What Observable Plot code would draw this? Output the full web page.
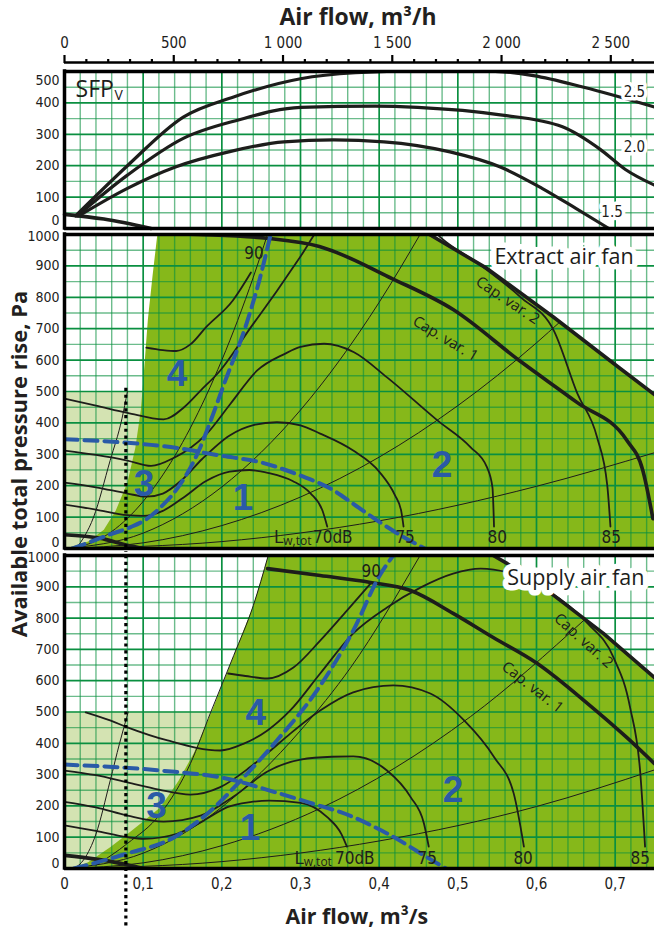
<!DOCTYPE html>
<html>
<head>
<meta charset="utf-8">
<script src="https://cdn.jsdelivr.net/npm/d3@7"></script>
<script src="https://cdn.jsdelivr.net/npm/@observablehq/plot@0.6"></script>
<style>
html,body{margin:0;padding:0;background:#fff;}
#wrap{position:relative;width:654px;height:931px;overflow:hidden;}
#wrap svg{position:absolute;left:0;}
.ttl{position:absolute;font-family:"Open Sans",sans-serif;font-weight:700;font-size:20px;color:#231f20;white-space:nowrap;line-height:1;transform-origin:50% 50%;}
</style>
</head>
<body>
<div id="wrap"></div>
<script>
// ================= DATA =================
// axes
const m3hMajor = [0, 500, 1000, 1500, 2000, 2500];
const m3hLabels = ["0", "500", "1 000", "1 500", "2 000", "2 500"];
const m3hMinor = [100,200,300,400,600,700,800,900,1100,1200,1300,1400,1600,1700,1800,1900,2100,2200,2300,2400,2600];
const m3sMajor = [0, 0.1, 0.2, 0.3, 0.4, 0.5, 0.6, 0.7];
const m3sLabels = ["0", "0,1", "0,2", "0,3", "0,4", "0,5", "0,6", "0,7"];
const sfpTicks = [0, 100, 200, 300, 400, 500];
const paTicks = [0, 100, 200, 300, 400, 500, 600, 700, 800, 900, 1000];

// SFPv panel
const sfp25 = [[0.014,40],[0.08,200],[0.151,355],[0.215,419],[0.3,477],[0.37,496],[0.45,502],[0.53,502],[0.596,487],[0.66,450],[0.75,387]];
const sfp20 = [[0.016,40],[0.08,170],[0.151,287],[0.22,345],[0.3,386],[0.395,390],[0.449,386],[0.554,362],[0.633,324],[0.681,252],[0.713,188],[0.75,138]];
const sfp15 = [[0.018,40],[0.08,128],[0.141,196],[0.21,245],[0.279,276],[0.342,282],[0.406,276],[0.49,244],[0.554,196],[0.607,128],[0.65,64],[0.692,0]];
const sfpBase = [[0,45],[0.05,30],[0.11,0]];
const sfpLabels = [{t:"2.5",x:0.7245,y:418},{t:"2.0",x:0.7245,y:244},{t:"1.5",x:0.696,y:37}];
const sfpName = [{x:0.014, y:420}];

// Extract air fan panel
const exLight = [{x1:0, x2:0.1, y1:0, y2:500}];
const exGreenLeft = [[0.002,0],[0.03,22],[0.05,60],[0.065,120],[0.08,210],[0.09,320],[0.097,440],[0.1,530],[0.106,730],[0.112,870],[0.118,1000]];
const exCap2 = [[0.464,1000],[0.537,892],[0.621,738],[0.706,574],[0.75,490]];
const exCap1 = [[0.118,1004],[0.17,1000],[0.257,988],[0.324,962],[0.417,859],[0.494,761],[0.579,597],[0.651,466],[0.715,344],[0.735,250],[0.748,95]];
const exBase = [[0,44],[0.045,33],[0.08,10],[0.1,0]];
const exSys1 = [[0.015,0],[0.037,100],[0.058,280],[0.073,413],[0.08,500]];
const exSys2 = [[0,0],[0.04,24],[0.08,96],[0.12,216],[0.16,384],[0.2,600],[0.24,864],[0.258,1000]];
const exSys3 = [[0,0],[0.1,49],[0.2,196],[0.3,441],[0.4,784],[0.452,1000]];
const exSys4 = [[0,0],[0.1,18],[0.2,73],[0.3,164],[0.4,291],[0.5,455],[0.6,655],[0.63,722]];
const exSys5 = [[0,0],[0.2,22],[0.4,88],[0.6,198],[0.75,305]];
const exDb70 = [[0,140],[0.04,124],[0.08,106],[0.1,104],[0.125,120],[0.15,160],[0.18,215],[0.21,245],[0.235,250],[0.26,240],[0.29,215],[0.313,175],[0.328,120],[0.334,70]];
const exDb75 = [[0,210],[0.04,195],[0.08,175],[0.104,165],[0.125,175],[0.15,220],[0.175,285],[0.21,360],[0.24,393],[0.27,402],[0.3,392],[0.325,366],[0.367,312],[0.4,245],[0.42,170],[0.428,120],[0.431,70]];
const exDb80 = [[0,312],[0.04,298],[0.08,280],[0.11,263],[0.14,290],[0.16,320],[0.181,366],[0.211,461],[0.245,567],[0.28,620],[0.3,642],[0.33,652],[0.368,625],[0.41,545],[0.474,408],[0.516,323],[0.537,259],[0.544,195],[0.546,70]];
const exDb85 = [[0,477],[0.04,455],[0.08,432],[0.126,411],[0.152,450],[0.173,503],[0.198,567],[0.237,705],[0.27,820],[0.3,930],[0.33,1040],[0.4,1120],[0.45,1060],[0.478,991],[0.53,900],[0.58,800],[0.622,694],[0.652,493],[0.677,354],[0.69,200],[0.694,70]];
const exDb90 = [[0.104,640],[0.125,632],[0.142,629],[0.16,650],[0.18,705],[0.214,790],[0.237,879]];
const exBlueH = [[0,348],[0.067,339],[0.135,323],[0.198,296],[0.25,274],[0.3,232],[0.34,188],[0.37,137],[0.4,85],[0.43,38],[0.458,0]];
const exBlueD = [[0.01,0],[0.037,25],[0.058,45],[0.084,68],[0.105,95],[0.122,131],[0.143,190],[0.169,302],[0.186,408],[0.203,525],[0.232,721],[0.248,857],[0.262,1000]];
const exDot = [{x:0.078, top:510, bottom:-12}];
const exDigits = [{t:"4",x:0.143,y:556},{t:"3",x:0.101,y:206},{t:"1",x:0.227,y:160},{t:"2",x:0.48,y:264}];
const exDbLabels = [{t:"70dB",x:0.341,y:17},{t:"75",x:0.433,y:18},{t:"80",x:0.55,y:18},{t:"85",x:0.695,y:18},{t:"90",x:0.241,y:922}];
const exLw = [{x:0.266, y:17}];
const exTitle = [{t:"Extract air fan", x:0.635, y:905}];
const exCapLabels = [{t:"Cap. var. 2", x:0.5635, y:790, r:34},{t:"Cap. var. 1", x:0.4843, y:668, r:31}];

// Supply air fan panel
const spLight = [{x1:0, x2:0.19, y1:0, y2:500}];
const spGreenLeft = [[0.01,0],[0.03,20],[0.058,68],[0.08,110],[0.1,150],[0.122,196],[0.145,280],[0.164,367],[0.186,495],[0.215,680],[0.24,840],[0.259,1000]];
const spCap2 = [[0.545,1000],[0.563,974],[0.614,888],[0.685,751],[0.75,610]];
const spCap1 = [[0.258,958],[0.325,936],[0.389,914],[0.44,888],[0.494,815],[0.545,738],[0.601,655],[0.665,527],[0.715,418],[0.75,335]];
const spBase = [[0,42],[0.04,30],[0.08,12],[0.1,0]];
const spSys1 = [[0.012,0],[0.025,30],[0.04,110],[0.058,280],[0.07,400],[0.081,500]];
const spSys2 = [[0.04,10],[0.08,80],[0.122,175],[0.16,335],[0.186,500],[0.215,680],[0.24,840],[0.259,1000]];
const spSys3 = [[0,0],[0.1,49],[0.2,196],[0.3,441],[0.364,643],[0.452,1000]];
const spSys4 = [[0,0],[0.1,18],[0.2,73],[0.325,192],[0.516,485],[0.662,797]];
const spSys5 = [[0,0],[0.2,22],[0.4,88],[0.6,198],[0.75,315]];
const spDb70 = [[0,138],[0.04,120],[0.08,100],[0.101,95],[0.143,111],[0.177,153],[0.207,196],[0.236,212],[0.26,217],[0.3,210],[0.334,164],[0.352,110],[0.359,70]];
const spDb75 = [[0,213],[0.04,195],[0.08,169],[0.126,150],[0.173,169],[0.215,230],[0.258,310],[0.3,348],[0.34,357],[0.367,358],[0.41,313],[0.44,228],[0.457,143],[0.463,70]];
const spDb80 = [[0,313],[0.04,298],[0.08,275],[0.12,252],[0.16,236],[0.198,260],[0.236,324],[0.262,377],[0.287,431],[0.325,505],[0.367,563],[0.418,585],[0.465,559],[0.508,473],[0.546,356],[0.571,240],[0.584,70]];
const spDb85 = [[0.027,499],[0.058,473],[0.08,451],[0.131,409],[0.198,377],[0.228,399],[0.258,441],[0.287,505],[0.325,623],[0.367,751],[0.41,834],[0.453,898],[0.494,942],[0.529,958],[0.563,946],[0.614,888],[0.665,783],[0.698,674],[0.719,514],[0.732,303],[0.738,70]];
const spDb90 = [[0.208,623],[0.23,615],[0.258,607],[0.291,642],[0.325,728],[0.359,824],[0.389,910]];
const spBlueH = [[0,332],[0.122,313],[0.207,287],[0.266,245],[0.325,200],[0.351,180],[0.41,112],[0.474,16],[0.485,0]];
const spBlueD = [[0.012,0],[0.08,48],[0.139,99],[0.182,176],[0.224,281],[0.27,409],[0.321,569],[0.367,760],[0.402,942],[0.418,1000]];
const spDot = [{x:0.078, top:1000, bottom:-185}];
const spDigits = [{t:"4",x:0.243,y:495},{t:"3",x:0.117,y:199},{t:"1",x:0.236,y:128},{t:"2",x:0.494,y:249}];
const spDbLabels = [{t:"70dB",x:0.369,y:13},{t:"75",x:0.461,y:13},{t:"80",x:0.583,y:13},{t:"85",x:0.732,y:13},{t:"90",x:0.39,y:931}];
const spLw = [{x:0.292, y:13}];
const spTitle = [{t:"Supply air fan", x:0.65, y:907}];
const spCapLabels = [{t:"Cap. var. 2", x:0.66, y:728, r:42},{t:"Cap. var. 1", x:0.595, y:579, r:38}];

// ================= STYLE =================
const GREEN = "#86b81a", LIGHT = "#d4e3b2", GRID = "#0a8f40", BLUE = "#2a5aa7", INK = "#1d1d1b";
const NARROW = '"Liberation Sans Narrow","DejaVu Sans Condensed","Arial Narrow",sans-serif';
const SANS = '"Open Sans","Noto Sans",sans-serif';
const BOLD = '"Liberation Sans",Arial,sans-serif';
const XDOM = [0, 0.75];

const px = d => d[0], py = d => d[1];
const L = (pts, o = {}) => Plot.line(pts, {x: px, y: py, curve: "monotone-x", stroke: INK, ...o});

function gridMarks(yMax) {
  const xs = d3.range(0, 38).map(i => i * 0.02);
  const ys = d3.range(0, yMax / 50 + 1).map(i => i * 50);
  return [
    Plot.ruleX(xs.filter((d, i) => i % 5 !== 0), {stroke: GRID, strokeOpacity: 0.6, strokeWidth: 1.4}),
    Plot.ruleY(ys.filter((d, i) => i % 2 !== 0), {stroke: GRID, strokeOpacity: 0.6, strokeWidth: 1.4}),
    Plot.ruleX(xs.filter((d, i) => i % 5 === 0), {stroke: GRID, strokeWidth: 1.7}),
    Plot.ruleY(ys.filter((d, i) => i % 2 === 0), {stroke: GRID, strokeWidth: 1.7})
  ];
}
function yLabels(ticks, dyTop, dyBottom) {
  const top = ticks[ticks.length - 1];
  const c = {x: () => 0, y: d => d, text: d => String(d), textAnchor: "end", dx: -5, fontSize: 14, fontFamily: NARROW, fill: INK};
  return [
    Plot.text(ticks.filter(d => d !== 0 && d !== top), c),
    Plot.text([top], {...c, dy: dyTop}),
    Plot.text([0], {...c, dy: dyBottom})
  ];
}
function frameMarks(yTop) {
  return [
    Plot.ruleY([0, yTop], {stroke: "#000", strokeWidth: 3.5}),
    Plot.ruleX([0], {stroke: "#000", strokeWidth: 3.5, strokeLinecap: "square"})
  ];
}

function fanPanel(o) {
  return Plot.plot({
    width: 654, height: o.height, marginLeft: 64, marginRight: 0, marginTop: o.mt, marginBottom: o.mb,
    x: {domain: XDOM, axis: null}, y: {domain: [0, 1000], axis: null},
    style: {background: "transparent", overflow: "visible"},
    marks: [
      Plot.rect(o.light, {x1: "x1", x2: "x2", y1: "y1", y2: "y2", fill: LIGHT}),
      Plot.line([...o.greenLeft, ...o.cap2, [XDOM[1], 0]], {x: px, y: py, fill: GREEN, stroke: "none", curve: "linear"}),
      ...gridMarks(1000),
      ...o.sys.map(s => L(s, {strokeWidth: 1, clip: true})),
      ...o.db.map(s => L(s, {strokeWidth: 1.8, clip: true})),
      L(o.cap1, {strokeWidth: 3.6, clip: true}),
      L(o.cap2, {strokeWidth: 3.6, curve: "linear", clip: true}),
      L(o.base, {strokeWidth: 3.6, clip: true}),
      L(o.blueH, {stroke: BLUE, strokeWidth: 4, strokeDasharray: "13,7", clip: true}),
      L(o.blueD, {stroke: BLUE, strokeWidth: 4, strokeDasharray: "13,7", clip: true}),
      Plot.ruleX(o.dot, {x: "x", y1: "top", y2: "bottom", stroke: "#000", strokeWidth: 3.2, strokeDasharray: "3.2,3.6"}),
      Plot.text(o.title, {x: "x", y: "y", text: "t", lineAnchor: "bottom", fontSize: 21.5, fontFamily: SANS, fill: INK, stroke: "#fff", strokeWidth: 11, strokeLinejoin: "round"}),
      Plot.text(o.capLabels, {x: "x", y: "y", text: "t", rotate: "r", fontSize: 15, fontFamily: SANS, fill: INK}),
      Plot.text(o.dbLabels, {x: "x", y: "y", text: "t", lineAnchor: "bottom", fontSize: 17, fontFamily: NARROW, fill: INK}),
      Plot.text(o.lw, {x: "x", y: "y", text: () => "L", textAnchor: "start", lineAnchor: "bottom", fontSize: 19, fontFamily: SANS, fill: INK}),
      Plot.text(o.lw, {x: "x", y: "y", text: () => "w,tot", textAnchor: "start", lineAnchor: "bottom", dx: 9.5, dy: 2, fontSize: 12, fontFamily: SANS, fill: INK}),
      Plot.text(o.digits, {x: "x", y: "y", text: "t", fontSize: 37, fontWeight: 700, fontFamily: BOLD, fill: BLUE}),
      ...frameMarks(1000),
      ...yLabels(paTicks, o.dyTop, o.dyBottom),
      ...(o.extra || [])
    ]
  });
}

// ================= BUILD =================
const wrap = document.getElementById("wrap");

const sfp = Plot.plot({
  width: 654, height: 230, marginLeft: 64, marginRight: 0, marginTop: 71, marginBottom: 2,
  x: {domain: XDOM, axis: null}, y: {domain: [0, 500], axis: null},
  style: {background: "transparent", overflow: "visible"},
  marks: [
    ...gridMarks(500),
    L(sfpBase, {strokeWidth: 3.6}),
    L(sfp15, {strokeWidth: 3.2}),
    L(sfp20, {strokeWidth: 3.2}),
    L(sfp25, {strokeWidth: 3.2, clip: true}),
    Plot.text(sfpLabels, {x: "x", y: "y", text: "t", lineAnchor: "bottom", fontSize: 15, fontFamily: NARROW, fill: INK, stroke: "#fff", strokeWidth: 7, strokeLinejoin: "round"}),
    Plot.text(sfpName, {x: "x", y: "y", text: () => "SFP", textAnchor: "start", lineAnchor: "bottom", fontSize: 23, fontFamily: SANS, fill: INK}),
    Plot.text(sfpName, {x: "x", y: "y", text: () => "V", textAnchor: "start", lineAnchor: "bottom", dx: 39, dy: 3, fontSize: 14, fontFamily: SANS, fill: INK}),
    ...frameMarks(500),
    ...yLabels(sfpTicks, 9, -7.5),
    // top axis (m3/h)
    Plot.ruleY([500], {dy: -9, stroke: "#000", strokeWidth: 2.6}),
    Plot.axisX(m3hMajor.map(d => d / 3600), {anchor: "top", tickSize: 8, dy: -9, strokeWidth: 2.2, tickFormat: () => "", label: null}),
    Plot.axisX(m3hMinor.map(d => d / 3600), {anchor: "top", tickSize: 4, dy: -9, strokeWidth: 2.2, tickFormat: () => "", label: null}),
    Plot.text(m3hMajor, {x: d => d / 3600, y: () => 500, text: (d, i) => m3hLabels[i], dy: -28, fontSize: 15, fontFamily: NARROW, fill: INK})
  ]
});
sfp.style.top = "0px";
wrap.appendChild(sfp);

const extract = fanPanel({
  height: 321, mt: 4, mb: 3, light: exLight, greenLeft: exGreenLeft, cap2: exCap2, cap1: exCap1, base: exBase,
  sys: [exSys1, exSys2, exSys3, exSys4, exSys5], db: [exDb70, exDb75, exDb80, exDb85, exDb90],
  blueH: exBlueH, blueD: exBlueD, dot: exDot, title: exTitle, capLabels: exCapLabels, dbLabels: exDbLabels,
  lw: exLw, digits: exDigits, dyTop: 2, dyBottom: -6
});
extract.style.top = "230px";
wrap.appendChild(extract);

const supply = fanPanel({
  height: 380, mt: 4, mb: 63, light: spLight, greenLeft: spGreenLeft, cap2: spCap2, cap1: spCap1, base: spBase,
  sys: [spSys1, spSys2, spSys3, spSys4, spSys5], db: [spDb70, spDb75, spDb80, spDb85, spDb90],
  blueH: spBlueH, blueD: spBlueD, dot: spDot, title: spTitle, capLabels: spCapLabels, dbLabels: spDbLabels,
  lw: spLw, digits: spDigits, dyTop: 2, dyBottom: -5,
  extra: [
    Plot.text(m3sMajor, {x: d => d, y: () => 0, text: (d, i) => m3sLabels[i], dy: 16, fontSize: 15, fontFamily: NARROW, fill: INK})
  ]
});
supply.style.top = "551px";
wrap.appendChild(supply);

// titles: sized to their length in the reference, centred on a point
function addTitle(text, cx, cy, rot, len) {
  const d = document.createElement("div");
  d.className = "ttl";
  d.textContent = text;
  wrap.appendChild(d);
  const w0 = d.offsetWidth;
  d.style.fontSize = (20 * len / w0).toFixed(2) + "px";
  d.style.left = (cx - d.offsetWidth / 2) + "px";
  d.style.top = (cy - d.offsetHeight / 2) + "px";
  if (rot) d.style.transform = "rotate(" + rot + "deg)";
}
addTitle("Air flow, m³/h", 358, 17, 0, 157);
addTitle("Air flow, m³/s", 357, 915, 0, 143);
addTitle("Available total pressure rise, Pa", 19, 464, -90, 347);
</script>
</body>
</html>
